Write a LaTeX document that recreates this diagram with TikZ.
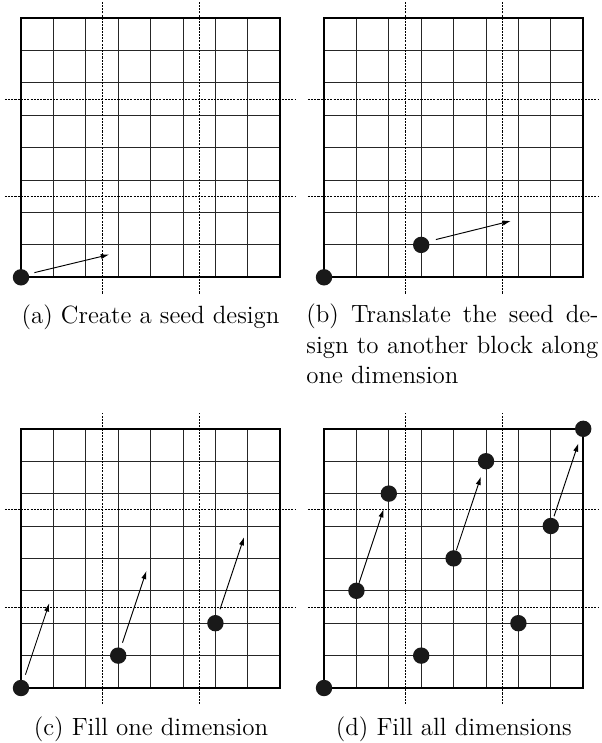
\documentclass[tikz,border=0pt]{standalone}
\usetikzlibrary{arrows.meta}
\tikzset{
  gridline/.style={line width=0.45pt, draw=black!85},
  dashline/.style={line width=0.45pt, draw=black, dash pattern=on 1pt off 0.55pt},
  blockframe/.style={line width=0.85pt, draw=black},
  seeddot/.style={circle, fill=black!90, inner sep=0pt, minimum size=7.9pt},
  arr/.style={line width=0.45pt, -{Latex[length=4pt,width=2.5pt]}},
  captext/.style={font=\fontsize{12}{14.5}\selectfont, inner sep=0pt, anchor=base},
  panelunits/.style={x=15.6pt, y=15.6pt}
}
\newcommand\blockgrid{%
  \foreach \i in {1,...,7} {
    \draw[gridline] (\i,0) -- (\i,8);
    \draw[gridline] (0,\i) -- (8,\i);
  }
  \foreach \t in {2.5,5.5} {
    \draw[dashline] (\t,-0.5) -- (\t,8.5);
    \draw[dashline] (-0.5,\t) -- (8.5,\t);
  }
  \draw[blockframe] (0,0) rectangle (8,8);
}
\begin{document}
\begin{tikzpicture}
\useasboundingbox (0,0) rectangle (289.38pt,-357.75pt);

% (a)
\begin{scope}[shift={(10.11pt,-133.52pt)}, panelunits]
  \blockgrid
  \node[seeddot] (a00) at (0,0) {};
  \coordinate (aend) at (2.72,0.70);
  \draw[arr, shorten <=2.7pt] (a00.23) -- (aend);
\end{scope}

% (b)
\begin{scope}[shift={(156.01pt,-133.52pt)}, panelunits]
  \blockgrid
  \node[seeddot] (b00) at (0,0) {};
  \node[seeddot] (b31) at (3,1) {};
  \coordinate (bend) at (5.77,1.74);
  \draw[arr, shorten <=3.4pt] (b31.25) -- (bend);
\end{scope}

% (c)
\begin{scope}[shift={(10.11pt,-331.27pt)}, panelunits]
  \blockgrid
  \node[seeddot] (c00) at (0,0) {};
  \node[seeddot] (c31) at (3,1) {};
  \node[seeddot] (c62) at (6,2) {};
  \coordinate (c13) at (1,3);
  \coordinate (c44) at (4,4);
  \coordinate (c75) at (7,5);
  \draw[arr, shorten <=2.6pt, shorten >=6.3pt] (c00) -- (c13);
  \draw[arr, shorten <=2.4pt, shorten >=6.3pt] (c31) -- (c44);
  \draw[arr, shorten <=2.9pt, shorten >=5.6pt] (c62) -- (c75);
\end{scope}

% (d)
\begin{scope}[shift={(156.01pt,-331.27pt)}, panelunits]
  \blockgrid
  \node[seeddot] (d00) at (0,0) {};
  \node[seeddot] (d31) at (3,1) {};
  \node[seeddot] (d62) at (6,2) {};
  \node[seeddot] (d13) at (1,3) {};
  \node[seeddot] (d44) at (4,4) {};
  \node[seeddot] (d75) at (7,5) {};
  \node[seeddot] (d26) at (2,6) {};
  \node[seeddot] (d57) at (5,7) {};
  \node[seeddot] (d88) at (8,8) {};
  \draw[arr, shorten >=3.7pt] (d13) -- (d26);
  \draw[arr, shorten >=3.7pt] (d44) -- (d57);
  \draw[arr, shorten <=0.8pt, shorten >=3.2pt] (d75) -- (d88);
\end{scope}

% captions
\node[captext] (capa) at (72.47pt,-155.8pt) {(a) Create a seed design};
\node[font=\fontsize{12}{14.5}\selectfont, inner sep=0pt, text width=140.6pt,
      align=justify, anchor=north west] (capb) at (147.34pt,-146.3pt)
  {(b) Translate the seed de-\linebreak sign to another block along\linebreak one dimension};
\node[captext] (capc) at (72.71pt,-353.9pt) {(c) Fill one dimension};
\node[captext] (capd) at (218.5pt,-353.9pt) {(d) Fill all dimensions};
\end{tikzpicture}
\end{document}
